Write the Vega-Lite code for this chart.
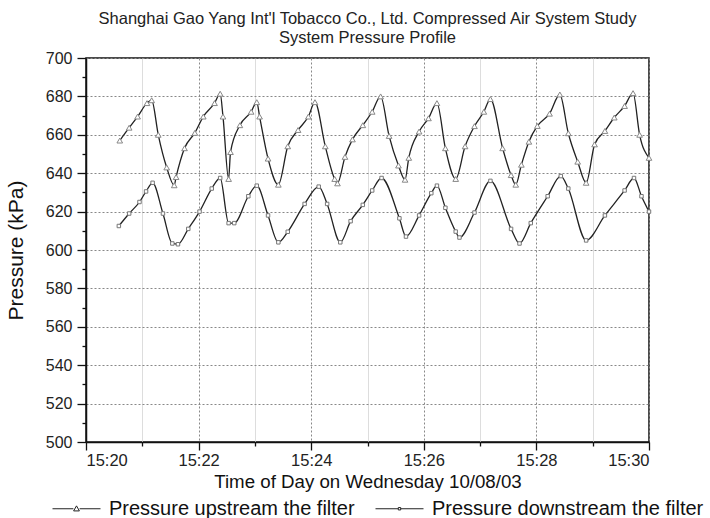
{
  "$schema": "https://vega.github.io/schema/vega-lite/v6.json",
  "autosize": {"type": "none"},
  "padding": {"left": 86, "top": 58, "right": 61, "bottom": 76},
  "width": 563,
  "height": 384,
  "background": "white",
  "config": {
    "font": "Liberation Sans",
    "view": {"stroke": "#111", "strokeWidth": 1.5},
    "axis": {"labelFont": "Liberation Sans", "titleFont": "Liberation Sans", "labelColor": "#222", "titleColor": "#111", "titleFontWeight": "normal", "domainColor": "#111", "tickColor": "#111", "domainWidth": 1.5, "tickWidth": 1.3}
  },
  "title": {
    "text": ["Shanghai Gao Yang Int'l Tobacco Co., Ltd. Compressed Air System Study", "System Pressure Profile"],
    "fontSize": 16.5,
    "fontWeight": "normal",
    "font": "Liberation Sans",
    "color": "#222",
    "anchor": "middle",
    "lineHeight": 19,
    "offset": 4
  },
  "data": {
    "values": [
      {"time": "2003-10-08 15:20:36", "series": "Pressure upstream the filter", "pressure": 657},
      {"time": "2003-10-08 15:20:46", "series": "Pressure upstream the filter", "pressure": 663.7},
      {"time": "2003-10-08 15:20:55", "series": "Pressure upstream the filter", "pressure": 669.5},
      {"time": "2003-10-08 15:21:05", "series": "Pressure upstream the filter", "pressure": 676.5},
      {"time": "2003-10-08 15:21:10", "series": "Pressure upstream the filter", "pressure": 678},
      {"time": "2003-10-08 15:21:17", "series": "Pressure upstream the filter", "pressure": 660},
      {"time": "2003-10-08 15:21:26", "series": "Pressure upstream the filter", "pressure": 643},
      {"time": "2003-10-08 15:21:34", "series": "Pressure upstream the filter", "pressure": 633.7},
      {"time": "2003-10-08 15:21:36", "series": "Pressure upstream the filter", "pressure": 638},
      {"time": "2003-10-08 15:21:45", "series": "Pressure upstream the filter", "pressure": 653},
      {"time": "2003-10-08 15:21:56", "series": "Pressure upstream the filter", "pressure": 661},
      {"time": "2003-10-08 15:22:05", "series": "Pressure upstream the filter", "pressure": 669.5},
      {"time": "2003-10-08 15:22:17", "series": "Pressure upstream the filter", "pressure": 676.5},
      {"time": "2003-10-08 15:22:23", "series": "Pressure upstream the filter", "pressure": 681.4},
      {"time": "2003-10-08 15:22:26", "series": "Pressure upstream the filter", "pressure": 669.5},
      {"time": "2003-10-08 15:22:32", "series": "Pressure upstream the filter", "pressure": 637},
      {"time": "2003-10-08 15:22:34", "series": "Pressure upstream the filter", "pressure": 651},
      {"time": "2003-10-08 15:22:44", "series": "Pressure upstream the filter", "pressure": 665},
      {"time": "2003-10-08 15:22:56", "series": "Pressure upstream the filter", "pressure": 672},
      {"time": "2003-10-08 15:23:02", "series": "Pressure upstream the filter", "pressure": 677},
      {"time": "2003-10-08 15:23:05", "series": "Pressure upstream the filter", "pressure": 669.5},
      {"time": "2003-10-08 15:23:14", "series": "Pressure upstream the filter", "pressure": 647.6},
      {"time": "2003-10-08 15:23:25", "series": "Pressure upstream the filter", "pressure": 634},
      {"time": "2003-10-08 15:23:35", "series": "Pressure upstream the filter", "pressure": 654},
      {"time": "2003-10-08 15:23:46", "series": "Pressure upstream the filter", "pressure": 662.5},
      {"time": "2003-10-08 15:23:57", "series": "Pressure upstream the filter", "pressure": 669.5},
      {"time": "2003-10-08 15:24:04", "series": "Pressure upstream the filter", "pressure": 677},
      {"time": "2003-10-08 15:24:15", "series": "Pressure upstream the filter", "pressure": 654},
      {"time": "2003-10-08 15:24:25", "series": "Pressure upstream the filter", "pressure": 637},
      {"time": "2003-10-08 15:24:28", "series": "Pressure upstream the filter", "pressure": 634.7},
      {"time": "2003-10-08 15:24:36", "series": "Pressure upstream the filter", "pressure": 648.5},
      {"time": "2003-10-08 15:24:44", "series": "Pressure upstream the filter", "pressure": 657.6},
      {"time": "2003-10-08 15:24:55", "series": "Pressure upstream the filter", "pressure": 665},
      {"time": "2003-10-08 15:25:05", "series": "Pressure upstream the filter", "pressure": 672},
      {"time": "2003-10-08 15:25:14", "series": "Pressure upstream the filter", "pressure": 680},
      {"time": "2003-10-08 15:25:23", "series": "Pressure upstream the filter", "pressure": 659.4},
      {"time": "2003-10-08 15:25:33", "series": "Pressure upstream the filter", "pressure": 644},
      {"time": "2003-10-08 15:25:40", "series": "Pressure upstream the filter", "pressure": 636.6},
      {"time": "2003-10-08 15:25:44", "series": "Pressure upstream the filter", "pressure": 648},
      {"time": "2003-10-08 15:25:55", "series": "Pressure upstream the filter", "pressure": 661.7},
      {"time": "2003-10-08 15:26:05", "series": "Pressure upstream the filter", "pressure": 668.6},
      {"time": "2003-10-08 15:26:14", "series": "Pressure upstream the filter", "pressure": 676.5},
      {"time": "2003-10-08 15:26:23", "series": "Pressure upstream the filter", "pressure": 653},
      {"time": "2003-10-08 15:26:34", "series": "Pressure upstream the filter", "pressure": 637},
      {"time": "2003-10-08 15:26:44", "series": "Pressure upstream the filter", "pressure": 654},
      {"time": "2003-10-08 15:26:54", "series": "Pressure upstream the filter", "pressure": 664.5},
      {"time": "2003-10-08 15:27:04", "series": "Pressure upstream the filter", "pressure": 672},
      {"time": "2003-10-08 15:27:11", "series": "Pressure upstream the filter", "pressure": 678.6},
      {"time": "2003-10-08 15:27:24", "series": "Pressure upstream the filter", "pressure": 653},
      {"time": "2003-10-08 15:27:33", "series": "Pressure upstream the filter", "pressure": 639},
      {"time": "2003-10-08 15:27:38", "series": "Pressure upstream the filter", "pressure": 634},
      {"time": "2003-10-08 15:27:44", "series": "Pressure upstream the filter", "pressure": 644.4},
      {"time": "2003-10-08 15:27:52", "series": "Pressure upstream the filter", "pressure": 656.4},
      {"time": "2003-10-08 15:28:01", "series": "Pressure upstream the filter", "pressure": 664.6},
      {"time": "2003-10-08 15:28:14", "series": "Pressure upstream the filter", "pressure": 671},
      {"time": "2003-10-08 15:28:25", "series": "Pressure upstream the filter", "pressure": 681},
      {"time": "2003-10-08 15:28:34", "series": "Pressure upstream the filter", "pressure": 660.8},
      {"time": "2003-10-08 15:28:44", "series": "Pressure upstream the filter", "pressure": 646},
      {"time": "2003-10-08 15:28:53", "series": "Pressure upstream the filter", "pressure": 635},
      {"time": "2003-10-08 15:29:02", "series": "Pressure upstream the filter", "pressure": 655},
      {"time": "2003-10-08 15:29:13", "series": "Pressure upstream the filter", "pressure": 662},
      {"time": "2003-10-08 15:29:23", "series": "Pressure upstream the filter", "pressure": 669},
      {"time": "2003-10-08 15:29:34", "series": "Pressure upstream the filter", "pressure": 675},
      {"time": "2003-10-08 15:29:43", "series": "Pressure upstream the filter", "pressure": 681.7},
      {"time": "2003-10-08 15:29:50", "series": "Pressure upstream the filter", "pressure": 660},
      {"time": "2003-10-08 15:30:00", "series": "Pressure upstream the filter", "pressure": 648},
      {"time": "2003-10-08 15:20:35", "series": "Pressure downstream the filter", "pressure": 612.5},
      {"time": "2003-10-08 15:20:46", "series": "Pressure downstream the filter", "pressure": 619},
      {"time": "2003-10-08 15:20:57", "series": "Pressure downstream the filter", "pressure": 625},
      {"time": "2003-10-08 15:21:04", "series": "Pressure downstream the filter", "pressure": 630.5},
      {"time": "2003-10-08 15:21:11", "series": "Pressure downstream the filter", "pressure": 635},
      {"time": "2003-10-08 15:21:22", "series": "Pressure downstream the filter", "pressure": 619},
      {"time": "2003-10-08 15:21:32", "series": "Pressure downstream the filter", "pressure": 603.4},
      {"time": "2003-10-08 15:21:38", "series": "Pressure downstream the filter", "pressure": 603},
      {"time": "2003-10-08 15:21:49", "series": "Pressure downstream the filter", "pressure": 611},
      {"time": "2003-10-08 15:22:01", "series": "Pressure downstream the filter", "pressure": 620},
      {"time": "2003-10-08 15:22:14", "series": "Pressure downstream the filter", "pressure": 632},
      {"time": "2003-10-08 15:22:23", "series": "Pressure downstream the filter", "pressure": 637.5},
      {"time": "2003-10-08 15:22:32", "series": "Pressure downstream the filter", "pressure": 614},
      {"time": "2003-10-08 15:22:38", "series": "Pressure downstream the filter", "pressure": 614},
      {"time": "2003-10-08 15:22:53", "series": "Pressure downstream the filter", "pressure": 628},
      {"time": "2003-10-08 15:23:02", "series": "Pressure downstream the filter", "pressure": 633.5},
      {"time": "2003-10-08 15:23:14", "series": "Pressure downstream the filter", "pressure": 618},
      {"time": "2003-10-08 15:23:25", "series": "Pressure downstream the filter", "pressure": 604},
      {"time": "2003-10-08 15:23:35", "series": "Pressure downstream the filter", "pressure": 609.5},
      {"time": "2003-10-08 15:23:53", "series": "Pressure downstream the filter", "pressure": 624},
      {"time": "2003-10-08 15:24:08", "series": "Pressure downstream the filter", "pressure": 633},
      {"time": "2003-10-08 15:24:17", "series": "Pressure downstream the filter", "pressure": 624},
      {"time": "2003-10-08 15:24:31", "series": "Pressure downstream the filter", "pressure": 604},
      {"time": "2003-10-08 15:24:42", "series": "Pressure downstream the filter", "pressure": 615},
      {"time": "2003-10-08 15:24:55", "series": "Pressure downstream the filter", "pressure": 623.5},
      {"time": "2003-10-08 15:25:05", "series": "Pressure downstream the filter", "pressure": 631},
      {"time": "2003-10-08 15:25:15", "series": "Pressure downstream the filter", "pressure": 637.5},
      {"time": "2003-10-08 15:25:34", "series": "Pressure downstream the filter", "pressure": 616.5},
      {"time": "2003-10-08 15:25:41", "series": "Pressure downstream the filter", "pressure": 607},
      {"time": "2003-10-08 15:25:55", "series": "Pressure downstream the filter", "pressure": 618},
      {"time": "2003-10-08 15:26:08", "series": "Pressure downstream the filter", "pressure": 629.6},
      {"time": "2003-10-08 15:26:14", "series": "Pressure downstream the filter", "pressure": 633.5},
      {"time": "2003-10-08 15:26:23", "series": "Pressure downstream the filter", "pressure": 622},
      {"time": "2003-10-08 15:26:34", "series": "Pressure downstream the filter", "pressure": 609.6},
      {"time": "2003-10-08 15:26:38", "series": "Pressure downstream the filter", "pressure": 606.5},
      {"time": "2003-10-08 15:26:54", "series": "Pressure downstream the filter", "pressure": 619.5},
      {"time": "2003-10-08 15:27:11", "series": "Pressure downstream the filter", "pressure": 636},
      {"time": "2003-10-08 15:27:33", "series": "Pressure downstream the filter", "pressure": 611},
      {"time": "2003-10-08 15:27:42", "series": "Pressure downstream the filter", "pressure": 603.4},
      {"time": "2003-10-08 15:27:54", "series": "Pressure downstream the filter", "pressure": 614},
      {"time": "2003-10-08 15:28:12", "series": "Pressure downstream the filter", "pressure": 628},
      {"time": "2003-10-08 15:28:26", "series": "Pressure downstream the filter", "pressure": 638.5},
      {"time": "2003-10-08 15:28:34", "series": "Pressure downstream the filter", "pressure": 632},
      {"time": "2003-10-08 15:28:53", "series": "Pressure downstream the filter", "pressure": 605},
      {"time": "2003-10-08 15:29:13", "series": "Pressure downstream the filter", "pressure": 618},
      {"time": "2003-10-08 15:29:34", "series": "Pressure downstream the filter", "pressure": 631},
      {"time": "2003-10-08 15:29:44", "series": "Pressure downstream the filter", "pressure": 637.5},
      {"time": "2003-10-08 15:29:52", "series": "Pressure downstream the filter", "pressure": 628},
      {"time": "2003-10-08 15:30:00", "series": "Pressure downstream the filter", "pressure": 620}
    ]
  },
  "encoding": {
    "x": {
      "field": "time",
      "type": "temporal",
      "scale": {"domain": [{"year": 2003, "month": 10, "date": 8, "hours": 15, "minutes": 20}, {"year": 2003, "month": 10, "date": 8, "hours": 15, "minutes": 30}], "nice": false},
      "axis": {
        "title": "Time of Day on Wednesday 10/08/03",
        "titleFontSize": 18.7,
        "titlePadding": 4,
        "labelFontSize": 16.5,
        "labelPadding": 2,
        "tickSize": 8,
        "tickCount": 10,
        "tickDash": {"condition": {"test": "minutes(datum.value) % 2 === 1", "value": [4, 20]}, "value": []},
        "labelExpr": "minutes(datum.value) % 2 === 0 ? timeFormat(datum.value, '%H:%M') : ''",
        "labelOverlap": false,
        "grid": true,
        "gridColor": {"condition": {"test": "minutes(datum.value) % 2 === 0", "value": "#888"}, "value": "#dddddd"},
        "gridDash": {"condition": {"test": "minutes(datum.value) % 2 === 0", "value": [2, 2]}, "value": []},
        "gridWidth": 1
      }
    },
    "y": {
      "field": "pressure",
      "type": "quantitative",
      "scale": {"domain": [500, 700], "nice": false, "zero": false},
      "axis": {
        "title": "Pressure (kPa)",
        "titleFontSize": 21,
        "titlePadding": 19,
        "labelFontSize": 16,
        "labelPadding": 5,
        "tickSize": 9,
        "tickDash": {"condition": {"test": "datum.value % 20 !== 0", "value": [4, 20]}, "value": []},
        "values": [500, 510, 520, 530, 540, 550, 560, 570, 580, 590, 600, 610, 620, 630, 640, 650, 660, 670, 680, 690, 700],
        "labelExpr": "datum.value % 20 === 0 ? datum.label : ''",
        "grid": true,
        "gridDash": [2, 2],
        "gridColor": "#888",
        "gridOpacity": {"condition": {"test": "datum.value % 20 === 0", "value": 1}, "value": 0}
      }
    }
  },
  "layer": [
    {
      "mark": {"type": "line", "strokeWidth": 1.3, "interpolate": "monotone"},
      "encoding": {
        "color": {
          "field": "series",
          "type": "nominal",
          "scale": {"domain": ["Pressure upstream the filter", "Pressure downstream the filter"], "range": ["#222222", "#222222"]},
          "legend": {
            "orient": "none",
            "legendX": -34,
            "legendY": 426,
            "direction": "horizontal",
            "title": null,
            "labelFontSize": 20,
            "labelFont": "Liberation Sans",
            "labelColor": "#111",
            "labelLimit": 0,
            "symbolSize": 2304,
            "symbolStrokeWidth": 1,
            "labelOffset": 8,
            "columnPadding": 18,
            "encode": {
              "symbols": {
                "update": {
                  "shape": {"signal": "datum.value === 'Pressure upstream the filter' ? 'M-1,0H-0.13M0.13,0H1M-0.12,0.09L0,-0.12L0.12,0.09Z' : 'M-1,0H-0.06M0.06,0H1M-0.05,-0.05H0.05V0.05H-0.05Z'"},
                  "fill": {"value": "white"},
                  "stroke": {"value": "#222"}
                }
              }
            }
          }
        }
      }
    },
    {
      "transform": [{"filter": "datum.series === 'Pressure upstream the filter'"}],
      "mark": {"type": "point", "shape": "triangle-up", "size": 32, "filled": true, "fill": "white", "stroke": "#888", "strokeWidth": 1, "opacity": 1}
    },
    {
      "transform": [{"filter": "datum.series === 'Pressure downstream the filter'"}],
      "mark": {"type": "point", "shape": "square", "size": 12, "filled": true, "fill": "white", "stroke": "#777", "strokeWidth": 1, "opacity": 1}
    }
  ]
}
